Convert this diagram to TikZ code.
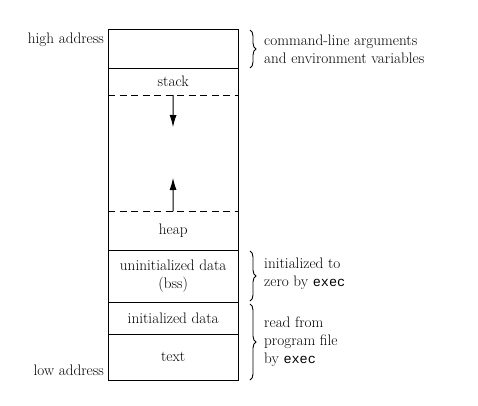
\documentclass[tikz,border=0pt]{standalone}
\usepackage{fontspec}
\setmonofont{Liberation Mono}
\usetikzlibrary{arrows.meta,decorations.pathreplacing}
\newcommand\progname[1]{{\fontsize{13.5}{18}\ttfamily #1}}
\begin{document}
\begin{tikzpicture}[x=1pt,y=-1pt,
  segbox/.style={rectangle,inner sep=0pt,minimum width=130pt,anchor=north west,align=center,font=\fontsize{15.2}{18}\selectfont},
  sidelbl/.style={inner sep=0pt,font=\fontsize{15.2}{18}\selectfont},
  notetxt/.style={inner sep=0pt,anchor=west,align=left,font=\fontsize{15.2}{18}\selectfont},
  segframe/.style={line width=0.9pt},
  segline/.style={line width=0.9pt},
  segdash/.style={line width=0.9pt,dash pattern=on 7pt off 4.5pt},
  growarrow/.style={line width=0.9pt,-{Latex[length=12pt,width=7pt]}},
  bracedeco/.style={line width=0.9pt,decorate,decoration={brace,amplitude=6pt}}]
\useasboundingbox (0,0) rectangle (478,405);
\node[segbox,minimum height=39pt] (args) at (108,29) {};
\node[segbox,minimum height=27pt] (stack) at (108,68) {stack};
\node[segbox,minimum height=116pt] (free) at (108,95) {};
\node[segbox,minimum height=39pt] (heap) at (108,211) {heap};
\node[segbox,minimum height=52pt] (bss) at (108,250) {uninitialized data\\(bss)};
\node[segbox,minimum height=32pt] (idata) at (108,302) {initialized data};
\node[segbox,minimum height=46pt] (text) at (108,334) {text};
\draw[segframe] (args.north west) rectangle (text.south east);
\draw[segline] (stack.north west) -- (stack.north east);
\draw[segdash] (free.north west) -- (free.north east);
\draw[segdash] (heap.north west) -- (heap.north east);
\draw[segline] (bss.north west) -- (bss.north east);
\draw[segline] (idata.north west) -- (idata.north east);
\draw[segline] (text.north west) -- (text.north east);
\coordinate (downtip) at (173,127);
\coordinate (uptip) at (173,178);
\draw[growarrow] (free.north) -- (downtip);
\draw[growarrow] (free.south) -- (uptip);
\node[sidelbl,anchor=east] (high) at (104,40) {high address};
\node[sidelbl,anchor=east] (low) at (104,370) {low address};
\draw[bracedeco] (250,30) -- (250,68);
\draw[bracedeco] (250,251) -- (250,301);
\draw[bracedeco] (250,304) -- (250,380);
\node[notetxt] (n1) at (264,49) {command-line arguments\\and environment variables};
\node[notetxt] (n2) at (264,274) {initialized to\\zero by \progname{exec}};
\node[notetxt] (n3) at (264,342) {read from\\program file\\by \progname{exec}};
\end{tikzpicture}
\end{document}
